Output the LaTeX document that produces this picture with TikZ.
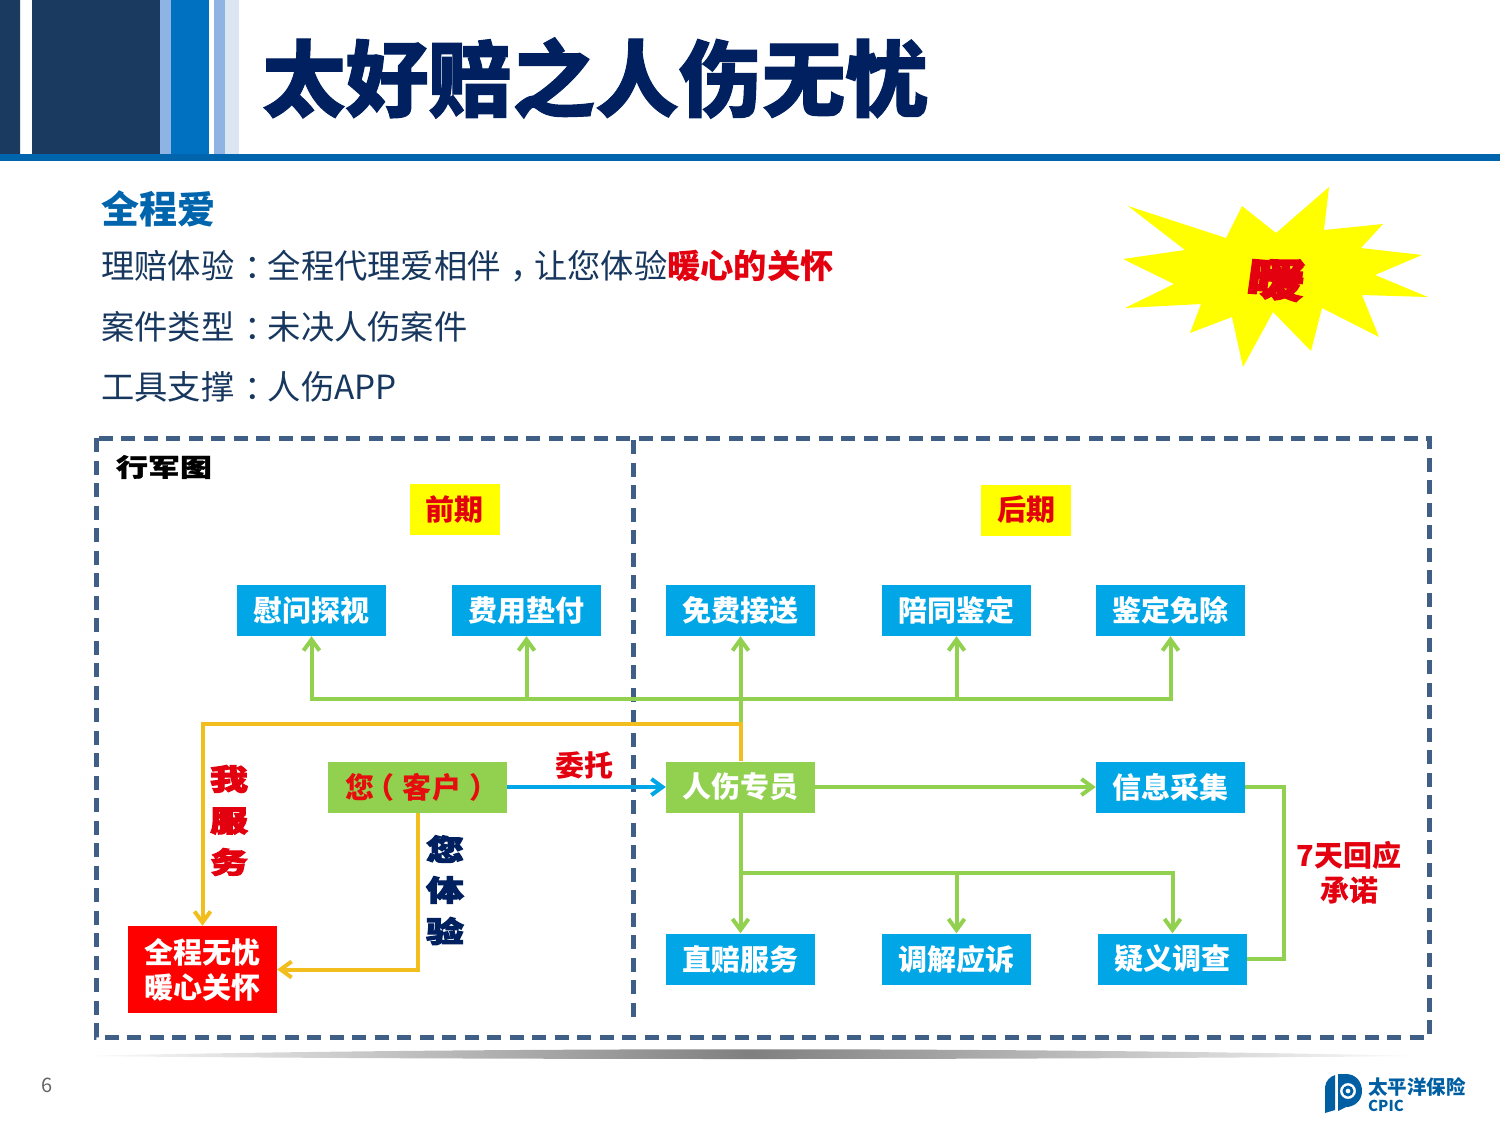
\documentclass[tikz,border=0pt]{standalone}
\usepackage{fontspec}
\usepackage{tikz}
\usetikzlibrary{arrows.meta}
\setmainfont{Noto Sans CJK SC}
\newfontfamily\heavyfont[BoldFeatures={FakeBold=1.2}]{Noto Sans CJK SC}
\newfontfamily\brushfont[BoldFeatures={FakeBold=3.5}]{Noto Sans CJK SC}
\newcommand{\fsize}[1]{\fontsize{#1}{#1}\selectfont}
\newcommand{\nudge}[2]{\kern#1em #2\kern-#1em }
\definecolor{navybar}{HTML}{1A3A60}
\definecolor{midblue}{HTML}{0070C0}
\definecolor{paleblue}{HTML}{8FB4E3}
\definecolor{mistblue}{HTML}{DCE6F2}
\definecolor{titleblue}{HTML}{002060}
\definecolor{bodyblue}{HTML}{17375E}
\definecolor{dashblue}{HTML}{3F5F86}
\definecolor{cyanbox}{HTML}{00A6E6}
\definecolor{greenbox}{HTML}{92D050}
\definecolor{goldline}{HTML}{F2BE1E}
\definecolor{alertred}{HTML}{E3000F}
\definecolor{sunyellow}{HTML}{FFFF00}

\begin{document}
\begin{tikzpicture}[x=1pt,y=-1pt]
\tikzset{inner sep=0pt,>={Straight Barb[length=11pt,width=16pt,line width=4pt]}}
\tikzset{bodyline/.style={anchor=west,text=bodyblue,font=\fsize{33.3}}}
\tikzset{stage/.style={rectangle,fill=sunyellow,text=alertred,font=\fsize{29}\bfseries,minimum width=90pt,minimum height=51pt}}
\tikzset{task/.style={rectangle,fill=cyanbox,text=white,font=\fsize{29}\bfseries,minimum width=149pt,minimum height=51pt}}
\tikzset{brush/.style={font=\brushfont\fsize{29}\bfseries,xscale=1.3,transform shape}}
\tikzset{greenway/.style={draw=greenbox,line width=4pt}}
\tikzset{goldway/.style={draw=goldline,line width=4pt}}
\useasboundingbox (0,0) rectangle (1500,1125);
% header
\fill[navybar] (0,0) rectangle (20,154) (32,0) rectangle (160,154);
\fill[paleblue] (160,0) rectangle (171,154) (214,0) rectangle (225,154);
\fill[midblue] (171,0) rectangle (209,154);
\fill[mistblue] (225,0) rectangle (239,154);
\fill[midblue!90!black] (0,154) rectangle (1500,161);
\node[anchor=west,text=titleblue,font=\heavyfont\fsize{83.3}\bfseries] (title) at (262,78) {太好赔之人伤无忧};
% intro lines
\node[anchor=west,text=midblue!90!black,font=\fsize{38}\bfseries] (love) at (101,209) {全程爱};
\node[bodyline] (line1) at (101,266) {理赔体验\nudge{.3}{：}全程代理爱相伴\nudge{.3}{，}让您体验\textcolor{alertred}{\bfseries 暖心的关怀}};
\node[bodyline] (line2) at (101,327) {案件类型\nudge{.3}{：}未决人伤案件};
\node[bodyline] (line3) at (101,387) {工具支撑\nudge{.3}{：}人伤APP};
% burst
\fill[sunyellow] (1128,206)--(1226,238)--(1242,206)--(1276,233)--(1329,187)--(1324,230)--(1383,224)--(1361,248)--(1422,255)--(1375,275)--(1428,297)--(1362,295)--(1379,337)--(1322,308)--(1311,351)--(1273,312)--(1243,367)--(1232,317)--(1190,333)--(1201,304)--(1125,308)--(1174,284)--(1123,259)--(1185,250)--cycle;
\node[text=alertred,font=\brushfont\fsize{44}\bfseries,xscale=1.3,rotate=-6,transform shape] (warm) at (1276,279) {暖};
% frame
\draw[dashblue,line width=5pt,dash pattern=on 14pt off 8.5pt] (96,438) rectangle (1429,1037);
\draw[dashblue,line width=5pt,dash pattern=on 14pt off 8.5pt] (633,440) -- (633,1025);
\node[font=\heavyfont\fsize{25}\bfseries,text=black,xscale=1.28,transform shape] (march) at (164,467) {行军图};
\node[stage] (early) at (454.5,509) {前期};
\node[stage] (late) at (1026,510) {后期};
% boxes
\node[task] (visit) at (311.5,610.5) {慰问探视};
\node[task] (advance) at (526.5,610.5) {费用垫付};
\node[task] (shuttle) at (740.5,610.5) {免费接送};
\node[task] (escort) at (956.5,610.5) {陪同鉴定};
\node[task] (waive) at (1170.5,610.5) {鉴定免除};
\node[task,fill=greenbox,minimum width=179pt,text=alertred!90!orange] (client) at (417.5,787) {您\nudge{-.3}{（}客户\nudge{.3}{）}};
\node[task,fill=greenbox] (agent) at (740.5,787) {人伤专员};
\node[task] (collect) at (1170.5,787) {信息采集};
\node[task] (direct) at (740.5,959) {直赔服务};
\node[task] (mediate) at (956.5,959) {调解应诉};
\node[task] (inquire) at (1172.5,959) {疑义调查};
\node[task,fill=red,minimum height=87pt,align=center,font=\fontsize{29}{35}\selectfont\bfseries] (care) at (202.5,969.5) {全程无忧\\暖心关怀};
% junctions
\coordinate (upbus) at (740.5,699);
\coordinate (lowbus) at (740.5,873);
\coordinate (goldtop) at (740.5,724);
\coordinate (sidebus) at (1284,873);
% connectors
\draw[greenway,->] (agent.north) -- (shuttle.south);
\draw[greenway,->] (upbus) -| (visit.south);
\draw[greenway,->] (upbus) -| (advance.south);
\draw[greenway,->] (upbus) -| (escort.south);
\draw[greenway,->] (upbus) -| (waive.south);
\draw[greenway,->] (agent.east) -- (collect.west);
\draw[greenway,->] (agent.south) -- (direct.north);
\draw[greenway,->] (lowbus) -| (mediate.north);
\draw[greenway,->] (lowbus) -| (inquire.north);
\draw[greenway] (collect.east) -| (sidebus) |- (inquire.east);
\draw[line width=4pt,draw=cyanbox,->] (client.east) -- (agent.west);
\draw[goldway,->] (agent.north) |- (goldtop) -| (care.north);
\draw[goldway,->] (client.south) |- (care.east);
% labels
\node[text=alertred,font=\fsize{29}\bfseries] (trust) at (584,765) {委托};
\node[brush,text=alertred] (serve1) at (229,779) {我};
\node[brush,text=alertred] (serve2) at (229,821) {服};
\node[brush,text=alertred] (serve3) at (229,862) {务};
\node[brush,text=titleblue] (feel1) at (445,849) {您};
\node[brush,text=titleblue] (feel2) at (445,890) {体};
\node[brush,text=titleblue] (feel3) at (445,931) {验};
\node[text=alertred,align=center,font=\fontsize{29}{35}\selectfont\bfseries] (promise) at (1349,873) {7天回应\\承诺};
% footer
\shade[left color=white,right color=white,middle color=black!50] (70,1056) .. controls (500,1047) and (1000,1047) .. (1430,1056) .. controls (1000,1060) and (500,1060) .. (70,1056) -- cycle;
\node[text=black!60,font=\fsize{20}] (page) at (47,1085) {6};
\fill[midblue!85!black] (1325,1087) .. controls (1326,1080) and (1330,1077) .. (1335,1075) -- (1335,1110) -- (1325,1113) -- cycle;
\fill[midblue!85!black,even odd rule] (1338,1074) -- (1346,1074) .. controls (1356,1074) and (1362,1082) .. (1362,1091) .. controls (1362,1101) and (1354,1107) .. (1346,1107) -- (1338,1111) -- cycle (1348,1091) circle[radius=8];
\fill[midblue!85!black,even odd rule] (1348,1091) circle[radius=5.5] (1348,1091) circle[radius=2.5];
\node[anchor=west,text=midblue!85!black,font=\fsize{19.5}\bfseries] (brandcn) at (1368,1087) {太平洋保险};
\node[anchor=west,text=midblue!85!black,font=\fsize{15}\bfseries] (branden) at (1368,1106) {CPIC};
\end{tikzpicture}
\end{document}
